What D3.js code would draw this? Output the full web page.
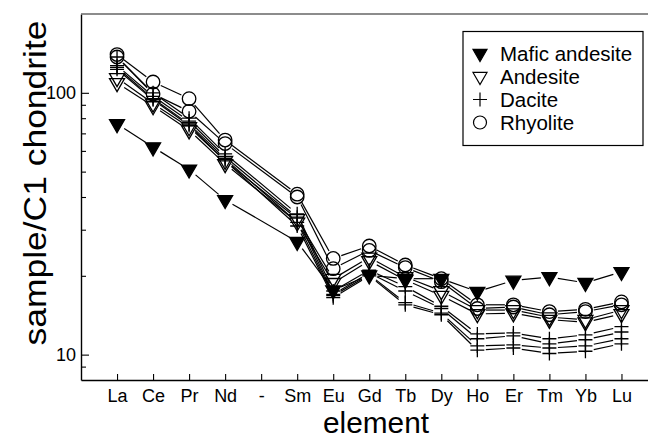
<!DOCTYPE html>
<html>
<head>
<meta charset="utf-8">
<script src="https://cdn.jsdelivr.net/npm/d3@7"></script>
<style>
  html, body { margin: 0; padding: 0; background: #fff; }
  svg { display: block; font-family: "Liberation Sans", Arial, sans-serif; }
</style>
</head>
<body>
<svg id="chart" width="648" height="437"></svg>
<script>
// ---------------- data ----------------
const categories = ["La","Ce","Pr","Nd","-","Sm","Eu","Gd","Tb","Dy","Ho","Er","Tm","Yb","Lu"];

const maficAndesite = [
  [76, 62, 51, 39, null, 27, 17.6, 20.1, 19.5, 19.5, 17.4, 19.2, 19.8, 18.8, 20.7]
];
const andesite = [
  [114, 91, 74, 55, null, 33, 19.5, 23.5, 19.8, 17.5, 14.8, 14.8, 13.9, 13.6, 14.8],
  [109, 89, 72, 53.5, null, 32, 18.8, 22.8, 19.3, 16.8, 14.3, 14.4, 13.6, 13.3, 14.3]
];
const dacite = [
  [137, 100, 80, 58.5, null, 34.5, 17.5, 21, 18.2, 15.3, 12, 12.1, 11.5, 11.9, 12.8],
  [127, 97, 78, 57, null, 33.5, 17, 20.5, 17.5, 15, 11.5, 11.8, 11.0, 11.4, 12.2],
  [125, 95, 76, 56, null, 32, 16.8, 20.2, 15.8, 14.4, 10.8, 10.9, 10.6, 10.8, 11.5],
  [123, 94, 75, 55, null, 31, 16.5, 20, 15.5, 14.2, 10.4, 10.6, 10.1, 10.3, 11.0]
];
const rhyolite = [
  [140, 110, 95, 66, null, 41, 23.3, 26, 22, 19.5, 15.5, 15.5, 14.6, 14.9, 15.9],
  [137, 99, 85, 64, null, 40, 21.3, 25, 21.5, 19, 15, 15.2, 14.2, 14.6, 15.5]
];

const legendLabels = ["Mafic andesite", "Andesite", "Dacite", "Rhyolite"];
const yMajorTicks = [10, 100];
const yMinorTicks = [9, 20, 30, 40, 50, 60, 70, 80, 90];
const xTitle = "element";
const yTitle = "sample/C1 chondrite";

// ---------------- layout ----------------
const svg = d3.select("#chart");
const pLeft = 81, pRight = 657.5, pTop = 14, pBottom = 380;

const x = d3.scalePoint().domain(categories).range([pLeft, pRight]).padding(1);
const y = d3.scaleLog().domain([8, 200]).range([pBottom, pTop]);

// ---------------- symbols ----------------
const triDown = {
  draw(ctx, size) {
    const s = Math.sqrt(size);
    const h = s * Math.sqrt(3) / 2;
    ctx.moveTo(-s / 2, -h / 3);
    ctx.lineTo(s / 2, -h / 3);
    ctx.lineTo(0, 2 * h / 3);
    ctx.closePath();
  }
};
const plusSym = {
  draw(ctx, size) {
    const r = Math.sqrt(size) / 2;
    ctx.moveTo(-r, 0); ctx.lineTo(r, 0);
    ctx.moveTo(0, -r); ctx.lineTo(0, r);
  }
};
const circSym = {
  draw(ctx, size) {
    const r = Math.sqrt(size) / 2;
    ctx.moveTo(r, 0);
    ctx.arc(0, 0, r, 0, 2 * Math.PI);
  }
};

const groups = [
  { data: maficAndesite, type: triDown, size: 15 * 15, fill: "#000", lsize: 14 * 14 },
  { data: andesite, type: triDown, size: 15 * 15, fill: "none", lsize: 14 * 14 },
  { data: dacite, type: plusSym, size: 14 * 14, fill: "none", lsize: 14 * 14 },
  { data: rhyolite, type: circSym, size: 13.5 * 13.5, fill: "none", lsize: 13 * 13 }
];

// ---------------- axes ----------------
const gx = svg.append("g").attr("transform", `translate(0,${pBottom})`)
  .call(d3.axisBottom(x).tickSizeInner(-6).tickSizeOuter(0).tickPadding(9.5));
gx.select(".domain").attr("stroke", "#000").attr("stroke-width", 1.4);
gx.selectAll(".tick line").attr("stroke", "#000").attr("stroke-width", 1.1);
gx.selectAll(".tick text").attr("font-size", 18).attr("fill", "#000")
  .attr("font-family", "Liberation Sans, Arial, sans-serif");

const gy = svg.append("g").attr("transform", `translate(${pLeft},0)`)
  .call(d3.axisLeft(y).tickValues(yMajorTicks).tickFormat(d3.format("d"))
    .tickSizeInner(-8).tickSizeOuter(0).tickPadding(5));
gy.select(".domain").attr("stroke", "#000").attr("stroke-width", 1.4);
gy.selectAll(".tick line").attr("stroke", "#000").attr("stroke-width", 1.1);
gy.selectAll(".tick text").attr("font-size", 18).attr("fill", "#000")
  .attr("font-family", "Liberation Sans, Arial, sans-serif");

const gyMinor = svg.append("g").attr("transform", `translate(${pLeft},0)`)
  .call(d3.axisLeft(y).tickValues(yMinorTicks).tickFormat("").tickSizeInner(-5).tickSizeOuter(0));
gyMinor.select(".domain").remove();
gyMinor.selectAll(".tick line").attr("stroke", "#000").attr("stroke-width", 1.1);

// top frame line
svg.append("line").attr("x1", pLeft).attr("x2", pRight).attr("y1", pTop).attr("y2", pTop)
  .attr("stroke", "#666").attr("stroke-width", 1.6);

// ---------------- titles ----------------
svg.append("text").attr("x", 376).attr("y", 432.5).attr("text-anchor", "middle")
  .attr("font-size", 29).attr("textLength", 106).attr("lengthAdjust", "spacingAndGlyphs")
  .attr("fill", "#000").text(xTitle);

svg.append("text").attr("transform", "translate(46,183) rotate(-90)").attr("text-anchor", "middle")
  .attr("font-size", 31).attr("textLength", 325).attr("lengthAdjust", "spacingAndGlyphs")
  .attr("fill", "#000").text(yTitle);

// ---------------- lines (with gaps at symbols) ----------------
const gap = 8.5;
const lineGen = d3.line();
const gLines = svg.append("g");
groups.forEach(g => {
  g.data.forEach(series => {
    const pts = [];
    series.forEach((v, i) => { if (v != null) pts.push([x(categories[i]), y(v)]); });
    for (let i = 0; i < pts.length - 1; i++) {
      const [x1, y1] = pts[i], [x2, y2] = pts[i + 1];
      const dx = x2 - x1, dy = y2 - y1, L = Math.hypot(dx, dy);
      if (L <= 2 * gap) continue;
      const ux = dx / L, uy = dy / L;
      gLines.append("path")
        .attr("d", lineGen([[x1 + ux * gap, y1 + uy * gap], [x2 - ux * gap, y2 - uy * gap]]))
        .attr("fill", "none").attr("stroke", "#000").attr("stroke-width", 1.2);
    }
  });
});

// ---------------- markers ----------------
const gMarks = svg.append("g");
groups.forEach(g => {
  const sym = d3.symbol().type(g.type).size(g.size);
  g.data.forEach(series => {
    series.forEach((v, i) => {
      if (v == null) return;
      gMarks.append("path")
        .attr("transform", `translate(${x(categories[i])},${y(v)})`)
        .attr("d", sym())
        .attr("fill", g.fill).attr("stroke", "#000").attr("stroke-width", 1.3);
    });
  });
});

// ---------------- legend ----------------
const lg = svg.append("g");
lg.append("rect").attr("x", 463).attr("y", 31.5).attr("width", 180).attr("height", 114)
  .attr("fill", "#fff").attr("stroke", "#000").attr("stroke-width", 1.2);
const rowY = [53.5, 76.5, 99.5, 122.5];
groups.forEach((g, i) => {
  const sym = d3.symbol().type(g.type).size(g.lsize);
  lg.append("path").attr("transform", `translate(480,${rowY[i]})`).attr("d", sym())
    .attr("fill", g.fill).attr("stroke", "#000").attr("stroke-width", 1.2);
  lg.append("text").attr("x", 500).attr("y", rowY[i] + 7).attr("font-size", 20.5)
    .attr("fill", "#000").text(legendLabels[i]);
});
</script>
</body>
</html>
